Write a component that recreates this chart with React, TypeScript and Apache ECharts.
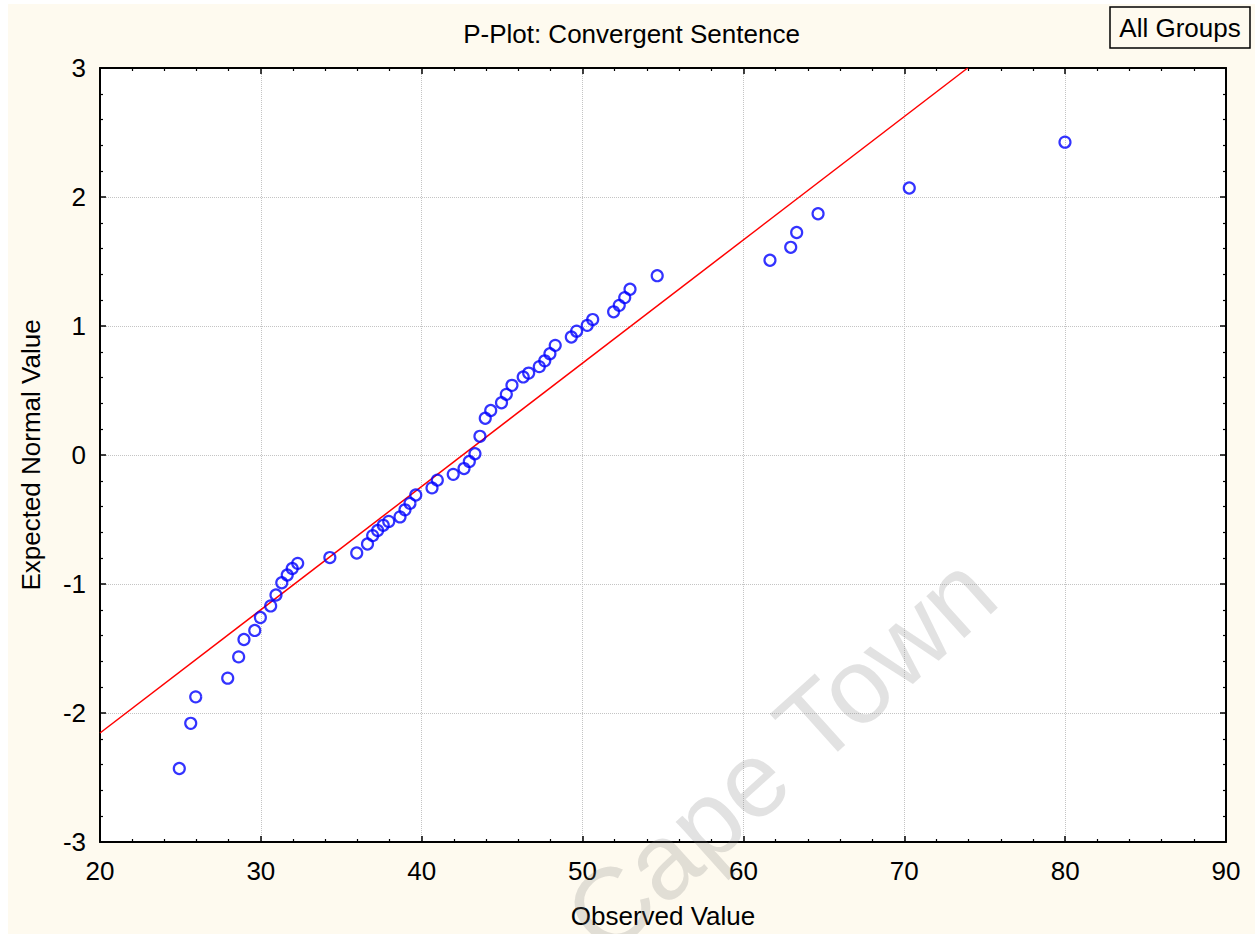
import React, { useEffect, useRef } from "react";
import * as echarts from "echarts";

// Observed values (x) and expected normal values (y)
const observedValues = [
  24.93, 25.64, 25.95, 27.94, 28.62, 28.95, 29.62, 29.97, 30.61, 30.94,
  31.3, 31.64, 31.95, 32.29, 34.29, 35.96, 36.63, 36.95, 37.26, 37.61,
  37.95, 38.65, 38.96, 39.27, 39.63, 40.64, 40.97, 41.96, 42.63, 42.96,
  43.31, 43.62, 43.95, 44.29, 44.96, 45.26, 45.61, 46.31, 46.65, 47.31,
  47.65, 47.97, 48.3, 49.3, 49.63, 50.29, 50.63, 51.93, 52.28, 52.62,
  52.95, 54.64, 61.65, 62.94, 63.31, 64.64, 70.31, 79.99,
];
const expectedNormal = [
  -2.43, -2.08, -1.875, -1.73, -1.565, -1.43, -1.36, -1.26, -1.17, -1.085,
  -0.99, -0.93, -0.88, -0.84, -0.795, -0.76, -0.69, -0.625, -0.585, -0.545,
  -0.515, -0.48, -0.425, -0.375, -0.31, -0.255, -0.195, -0.15, -0.105, -0.05,
  0.01, 0.145, 0.285, 0.345, 0.405, 0.47, 0.54, 0.605, 0.635, 0.685,
  0.73, 0.785, 0.85, 0.915, 0.96, 1.005, 1.05, 1.11, 1.16, 1.22,
  1.285, 1.39, 1.51, 1.61, 1.725, 1.87, 2.07, 2.425,
];

// Reference (normal fit) line end points
const fitLineX = [20, 73.94];
const fitLineY = [-2.155, 3];

const xTicks = { min: 20, max: 90, interval: 10 };
const yTicks = { min: -3, max: 3, interval: 1 };

const FONT = '"Liberation Sans", Arial, Helvetica, sans-serif';
const CREAM = "#fefaef";

export default function App() {
  const ref = useRef<HTMLDivElement>(null);

  useEffect(() => {
    if (!ref.current) return;
    const chart = echarts.init(ref.current, undefined, { renderer: "svg" });

    const points = observedValues.map((x, i) => [x, expectedNormal[i]]);
    const linePts = fitLineX.map((x, i) => [x, fitLineY[i]]);

    const axisLine = { show: true, onZero: false, lineStyle: { color: "#000", width: 2 } };
    const axisTick = { show: true, inside: true, length: 6, lineStyle: { color: "#000", width: 1.5 } };
    const minorTick = { show: true, splitNumber: 5, length: 3, lineStyle: { color: "#000", width: 1.2 } };
    const label = { fontSize: 26, color: "#000", fontFamily: FONT };

    chart.setOption({
      animation: false,
      backgroundColor: CREAM,
      title: {
        text: "P-Plot: Convergent Sentence",
        left: "center",
        top: 17,
        padding: 0,
        textStyle: { fontSize: 26, fontWeight: "normal", color: "#000", fontFamily: FONT },
      },
      grid: {
        left: 92,
        top: 64,
        width: 1126,
        height: 775,
        show: true,
        backgroundColor: "#ffffff",
        borderWidth: 0,
      },
      xAxis: [
        {
          type: "value",
          ...xTicks,
          position: "bottom",
          axisLine,
          axisTick,
          minorTick,
          splitLine: { show: true, lineStyle: { color: "#c4c4c4", type: "dotted", width: 1 } },
          axisLabel: { ...label, margin: 16 },
          name: "Observed Value",
          nameLocation: "middle",
          nameGap: 61,
          nameTextStyle: { ...label },
        },
        {
          type: "value",
          ...xTicks,
          position: "top",
          axisLine,
          axisTick,
          minorTick,
          splitLine: { show: false },
          axisLabel: { show: false },
        },
      ],
      yAxis: [
        {
          type: "value",
          ...yTicks,
          position: "left",
          axisLine,
          axisTick,
          minorTick,
          splitLine: { show: true, lineStyle: { color: "#c4c4c4", type: "dotted", width: 1 } },
          axisLabel: { ...label, margin: 14 },
          name: "Expected Normal Value",
          nameLocation: "middle",
          nameGap: 56,
          nameTextStyle: { ...label },
        },
        {
          type: "value",
          ...yTicks,
          position: "right",
          axisLine,
          axisTick,
          minorTick,
          splitLine: { show: false },
          axisLabel: { show: false },
        },
      ],
      graphic: [
        {
          type: "text",
          x: 772,
          y: 750,
          rotation: (42 * Math.PI) / 180,
          z: 1,
          silent: true,
          style: {
            text: "Cape Town",
            fontSize: 107,
            fontFamily: FONT,
            fill: "rgba(120,120,120,0.21)",
            align: "center",
            verticalAlign: "middle",
          },
        },
        {
          type: "group",
          x: 1102,
          y: 3,
          children: [
            {
              type: "rect",
              shape: { x: 0, y: 0, width: 140, height: 41 },
              style: { fill: CREAM, stroke: "#000", lineWidth: 1.5 },
            },
            {
              type: "text",
              x: 70,
              y: 21,
              style: {
                text: "All Groups",
                fontSize: 26,
                fontFamily: FONT,
                fill: "#000",
                align: "center",
                verticalAlign: "middle",
              },
            },
          ],
        },
      ],
      series: [
        {
          type: "line",
          data: linePts,
          showSymbol: false,
          symbol: "none",
          lineStyle: { color: "#ff0000", width: 1.5 },
          z: 2,
          silent: true,
        },
        {
          type: "scatter",
          data: points,
          symbol: "circle",
          symbolSize: 11,
          itemStyle: { color: "rgba(0,0,0,0)", borderColor: "#0000ff", borderWidth: 2.2 },
          z: 3,
        },
      ],
    });

    return () => chart.dispose();
  }, []);

  return (
    <div
      ref={ref}
      style={{ position: "absolute", left: 8, top: 4, width: 1247, height: 930 }}
    />
  );
}
